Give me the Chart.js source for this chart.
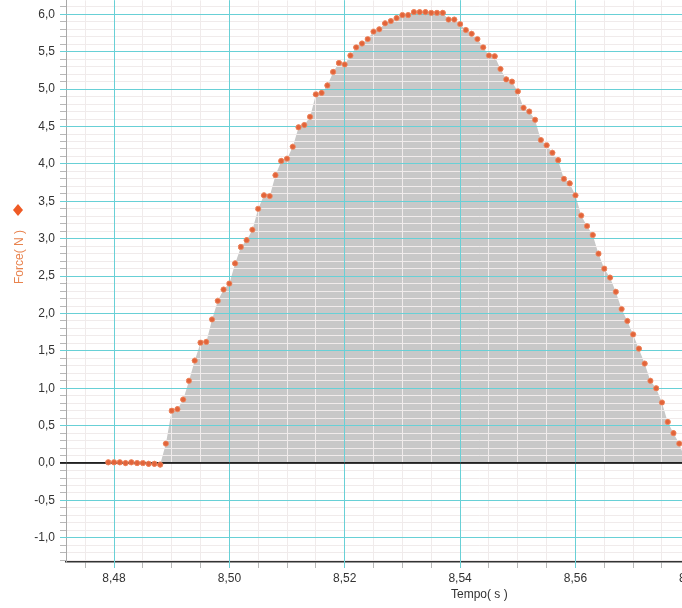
<!DOCTYPE html>
<html><head><meta charset="utf-8">
<script src="https://cdn.jsdelivr.net/npm/chart.js@4.4.1/dist/chart.umd.min.js"></script>
<style>
html,body{margin:0;padding:0;background:#fff;overflow:hidden;width:682px;height:608px}
#wrap{position:absolute;left:0;top:-3px;width:896px;height:611px}
</style>
</head><body>
<div id="wrap"><canvas id="c" width="896" height="611"></canvas></div>
<script>
// ---- data ----
const times = [
  8.479, 8.480, 8.481, 8.482, 8.483, 8.484, 8.485, 8.486, 8.487, 8.488,
  8.489, 8.490, 8.491, 8.492, 8.493, 8.494, 8.495, 8.496, 8.497, 8.498,
  8.499, 8.500, 8.501, 8.502, 8.503, 8.504, 8.505, 8.506, 8.507, 8.508,
  8.509, 8.510, 8.511, 8.512, 8.513, 8.514, 8.515, 8.516, 8.517, 8.518,
  8.519, 8.520, 8.521, 8.522, 8.523, 8.524, 8.525, 8.526, 8.527, 8.528,
  8.529, 8.530, 8.531, 8.532, 8.533, 8.534, 8.535, 8.536, 8.537, 8.538,
  8.539, 8.540, 8.541, 8.542, 8.543, 8.544, 8.545, 8.546, 8.547, 8.548,
  8.549, 8.550, 8.551, 8.552, 8.553, 8.554, 8.555, 8.556, 8.557, 8.558,
  8.559, 8.560, 8.561, 8.562, 8.563, 8.564, 8.565, 8.566, 8.567, 8.568,
  8.569, 8.570, 8.571, 8.572, 8.573, 8.574, 8.575, 8.576, 8.577, 8.578,
  8.579
];
const forces = [
  0.01, 0.01, 0.01, 0.00, 0.01, 0.00, 0.00, -0.01, -0.01, -0.02,
  0.26, 0.70, 0.72, 0.85, 1.10, 1.37, 1.61, 1.62, 1.92, 2.17,
  2.32, 2.40, 2.67, 2.89, 2.98, 3.12, 3.40, 3.58, 3.57, 3.85,
  4.04, 4.07, 4.23, 4.49, 4.52, 4.63, 4.93, 4.95, 5.05, 5.23,
  5.35, 5.33, 5.45, 5.56, 5.61, 5.67, 5.77, 5.80, 5.88, 5.91,
  5.95, 5.99, 5.99, 6.03, 6.03, 6.03, 6.02, 6.02, 6.02, 5.93,
  5.93, 5.87, 5.79, 5.74, 5.67, 5.56, 5.45, 5.44, 5.27, 5.13,
  5.10, 4.97, 4.75, 4.70, 4.59, 4.32, 4.25, 4.15, 4.05, 3.80,
  3.74, 3.58, 3.31, 3.17, 3.05, 2.80, 2.60, 2.48, 2.29, 2.06,
  1.90, 1.72, 1.53, 1.33, 1.10, 1.00, 0.81, 0.55, 0.40, 0.26,
  0.05
];
const xRange = [8.47167, 8.615];
const yRange = [-1.323, 6.187];
const xMajorStep = 0.02, xMinorStep = 0.005;
const yMajorStep = 0.5, yMinorStep = 0.1;
const xTitle = 'Tempo( s )';
const yTitle = 'Force( N )';

// ---- styles ----
const CYAN = '#68d0d6';
const MINOR = '#f0ebeb';
const TICKGRAY = '#b8b8b8';
const FONT = {family: '"Liberation Sans", Arial, sans-serif', size: 12};

function isMult(v, step) { const r = v / step; return Math.abs(r - Math.round(r)) < 1e-6; }
const fmt = (v, d) => v.toFixed(d).replace('.', ',');
const align1 = p => Math.round(p - 0.5) + 0.5;

const pts = times.map((t, i) => ({x: t, y: forces[i]}));

const overlay = {
  id: 'overlay',
  afterDraw(chart) {
    const ctx = chart.ctx;
    const {left, right, top, bottom} = chart.chartArea;
    const xs = chart.scales.x, ys = chart.scales.y;
    ctx.save();
    ctx.lineWidth = 1;
    ctx.strokeStyle = CYAN;
    ctx.beginPath();
    // major lines over the minor ones
    xs.ticks.forEach(t => {
      if (isMult(t.value, xMajorStep)) {
        const p = align1(xs.getPixelForValue(t.value));
        ctx.moveTo(p, top); ctx.lineTo(p, bottom + 6);
      }
    });
    ys.ticks.forEach(t => {
      if (isMult(t.value, yMajorStep) && Math.abs(t.value) > 1e-6) {
        const p = align1(ys.getPixelForValue(t.value));
        ctx.moveTo(left - 6, p); ctx.lineTo(right, p);
      }
    });
    ctx.stroke();
    // zero line
    const z = ys.getPixelForValue(0);
    ctx.strokeStyle = '#222';
    ctx.lineWidth = 1.5;
    ctx.beginPath();
    ctx.moveTo(left - 6, z); ctx.lineTo(right, z);
    ctx.stroke();
    ctx.restore();
    // points on top of grid
    const meta = chart.getDatasetMeta(1);
    ctx.save();
    meta.controller.draw();
    ctx.restore();
    // y-axis title with marker
    ctx.save();
    ctx.fillStyle = '#ef5a25';
    ctx.beginPath();
    ctx.moveTo(18, 207); ctx.lineTo(23, 213); ctx.lineTo(18, 219); ctx.lineTo(13, 213); ctx.closePath();
    ctx.fill();
    ctx.translate(20, 260);
    ctx.rotate(-Math.PI / 2);
    ctx.font = '12px "Liberation Sans", Arial, sans-serif';
    ctx.textAlign = 'center';
    ctx.textBaseline = 'middle';
    ctx.fillStyle = '#e8834e';
    ctx.fillText(yTitle, 0, 0);
    ctx.restore();
  }
};

new Chart(document.getElementById('c'), {
  type: 'line',
  data: {
    datasets: [
      {data: pts, fill: 'origin', backgroundColor: '#c8c8c8', borderWidth: 0, pointRadius: 0, tension: 0},
      {data: pts, fill: false, showLine: false, borderWidth: 0, pointRadius: 2.6, pointHoverRadius: 2.6,
       pointBackgroundColor: '#e2643a', pointBorderColor: 'rgba(238,140,100,0.9)', pointBorderWidth: 0.8}
    ]
  },
  options: {
    responsive: false,
    animation: false,
    devicePixelRatio: 1,
    layout: {padding: 0},
    plugins: {legend: {display: false}, title: {display: false}, tooltip: {enabled: false}},
    scales: {
      x: {
        type: 'linear', position: 'bottom', min: xRange[0], max: xRange[1],
        afterFit(s) { s.height = 46; s.paddingLeft = 0; s.paddingRight = 0; },
        ticks: {
          stepSize: xMinorStep, autoSkip: false, maxRotation: 0, minRotation: 0, includeBounds: false,
          maxTicksLimit: 1000, padding: 3, color: '#333', font: FONT,
          callback: v => isMult(v, xMajorStep) ? fmt(v, 2) : ''
        },
        grid: {
          z: 1,
          color: c => isMult(c.tick.value, xMajorStep) ? CYAN : MINOR,
          tickColor: c => isMult(c.tick.value, xMajorStep) ? CYAN : TICKGRAY,
          lineWidth: 1, tickLength: 6
        },
        border: {color: '#333', width: 1.5, z: 2},
        title: {display: true, text: xTitle, color: '#333', font: FONT, padding: {top: 0, bottom: 6}}
      },
      y: {
        type: 'linear', position: 'left', min: yRange[0], max: yRange[1],
        afterFit(s) { s.width = 66; s.paddingTop = 0; s.paddingBottom = 0; },
        ticks: {
          stepSize: yMinorStep, autoSkip: false, includeBounds: false, maxTicksLimit: 1000,
          padding: 5, color: '#333', font: FONT,
          callback: v => isMult(v, yMajorStep) ? fmt(v, 1) : ''
        },
        grid: {
          z: 1,
          color: c => Math.abs(c.tick.value) < 1e-6 ? '#222' : (isMult(c.tick.value, yMajorStep) ? CYAN : MINOR),
          tickColor: c => Math.abs(c.tick.value) < 1e-6 ? '#222' : (isMult(c.tick.value, yMajorStep) ? CYAN : TICKGRAY),
          lineWidth: c => Math.abs(c.tick.value) < 1e-6 ? 1.5 : 1,
          tickLength: 6
        },
        border: {color: '#a8a8a8', width: 1, z: 2}
      }
    }
  },
  plugins: [overlay]
});
</script>
</body></html>
